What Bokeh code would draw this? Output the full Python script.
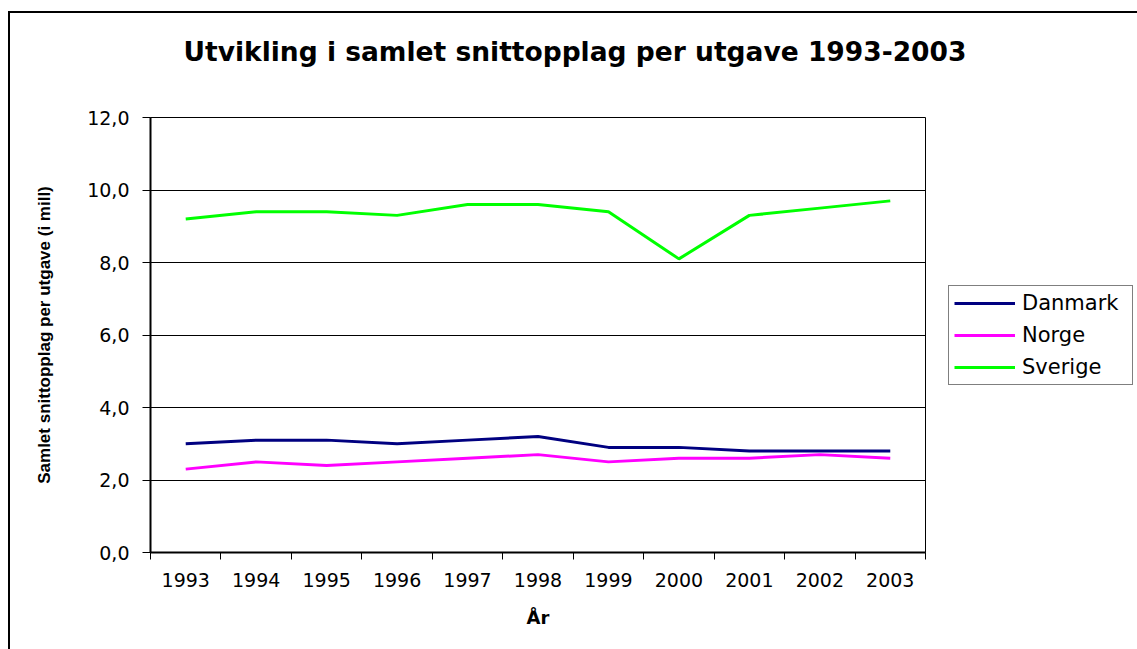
from bokeh.plotting import figure
from bokeh.models import FixedTicker, Legend, LegendItem, Range1d, Title
from bokeh.embed import file_html
from bokeh.resources import INLINE

# Average circulation per issue (millions), 1993-2003
years = ["1993", "1994", "1995", "1996", "1997", "1998",
         "1999", "2000", "2001", "2002", "2003"]
danmark = [3.0, 3.1, 3.1, 3.0, 3.1, 3.2, 2.9, 2.9, 2.8, 2.8, 2.8]
norge = [2.3, 2.5, 2.4, 2.5, 2.6, 2.7, 2.5, 2.6, 2.6, 2.7, 2.6]
sverige = [9.2, 9.4, 9.4, 9.3, 9.6, 9.6, 9.4, 8.1, 9.3, 9.5, 9.7]
y_ticks = [0, 2, 4, 6, 8, 10, 12]
y_tick_labels = ["0,0", "2,0", "4,0", "6,0", "8,0", "10,0", "12,0"]

FONT = "DejaVu Sans"
LABEL_FONT = "Liberation Sans"

# category centres sit halfway between the category boundaries
xs = [i + 0.5 for i in range(len(years))]

p = figure(width=1129, height=638, output_backend="svg", toolbar_location=None,
           x_range=Range1d(0, len(years)), y_range=Range1d(0, 12),
           min_border_left=140, min_border_right=213,
           min_border_top=104, min_border_bottom=97)
p.frame_width = 775
p.frame_height = 435
p.margin = (11, 0, 0, 8)
p.styles = {"border-top": "2px solid black", "border-left": "2px solid black"}
p.outline_line_color = "black"
p.outline_line_width = 1
p.background_fill_color = "white"
p.border_fill_color = "white"

# x axis: labels at category centres, tick marks on the boundaries
xa = p.xaxis[0]
xa.ticker = FixedTicker(ticks=xs, minor_ticks=list(range(len(years) + 1)))
xa.major_label_overrides = {x: y for x, y in zip(xs, years)}
xa.major_tick_line_color = None
xa.major_tick_out = 0
xa.major_tick_in = 0
xa.minor_tick_line_color = "black"
xa.minor_tick_out = 7
xa.minor_tick_in = 0
xa.axis_line_color = "black"
xa.axis_line_width = 2
xa.major_label_text_font = FONT
xa.major_label_text_font_size = "19px"
xa.major_label_text_color = "black"
xa.major_label_standoff = 13
xa.axis_label = "År"
xa.axis_label_text_font = FONT
xa.axis_label_text_font_size = "18px"
xa.axis_label_text_font_style = "bold"
xa.axis_label_text_color = "black"
xa.axis_label_standoff = 17

ya = p.yaxis[0]
ya.ticker = FixedTicker(ticks=y_ticks, minor_ticks=[])
ya.major_label_overrides = {t: s for t, s in zip(y_ticks, y_tick_labels)}
ya.major_tick_line_color = "black"
ya.major_tick_out = 8
ya.major_tick_in = 0
ya.minor_tick_line_color = None
ya.axis_line_color = "black"
ya.axis_line_width = 2
ya.major_label_text_font = FONT
ya.major_label_text_font_size = "19px"
ya.major_label_text_color = "black"
ya.major_label_standoff = 13
ya.axis_label = "Samlet snittopplag per utgave (i mill)"
ya.axis_label_text_font = LABEL_FONT
ya.axis_label_text_font_size = "17px"
ya.axis_label_text_font_style = "bold"
ya.axis_label_text_color = "black"
ya.axis_label_standoff = 30

p.xgrid.grid_line_color = None
p.ygrid.ticker = FixedTicker(ticks=y_ticks)
p.ygrid.grid_line_color = "black"
p.ygrid.grid_line_width = 1

r_dk = p.line(xs, danmark, line_color="#000080", line_width=3)
r_no = p.line(xs, norge, line_color="#FF00FF", line_width=3)
r_se = p.line(xs, sverige, line_color="#00FF00", line_width=3)

legend = Legend(items=[LegendItem(label="Danmark", renderers=[r_dk]),
                       LegendItem(label="Norge", renderers=[r_no]),
                       LegendItem(label="Sverige", renderers=[r_se])],
                location="center_left")
legend.border_line_color = "black"
legend.border_line_width = 1
legend.background_fill_color = "white"
legend.background_fill_alpha = 1
legend.label_text_font = FONT
legend.label_text_font_size = "21px"
legend.label_text_color = "black"
legend.glyph_width = 61
legend.glyph_height = 24
legend.label_height = 24
legend.label_width = 105
legend.label_standoff = 7
legend.spacing = 8
legend.padding = 5
legend.margin = 23
p.add_layout(legend, "right")

# a blank second line keeps the title clear of the plot area
title = Title(text="Utvikling i samlet snittopplag per utgave 1993-2003\n ",
              align="left", offset=33, standoff=36, vertical_align="top",
              text_font=FONT, text_font_size="26.5px", text_font_style="bold",
              text_color="black")
p.add_layout(title, "above")

open("out.html", "w").write(file_html(p, INLINE))
